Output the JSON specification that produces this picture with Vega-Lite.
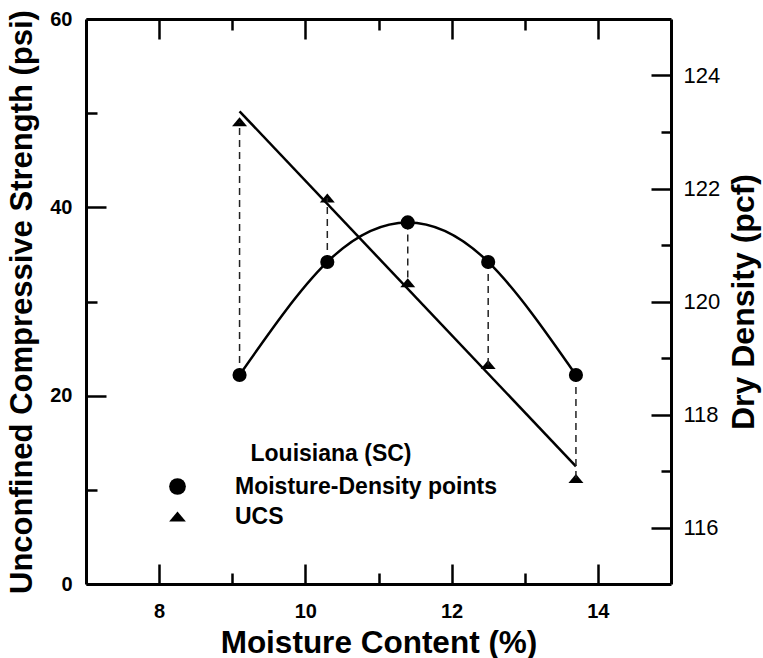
{
  "$schema": "https://vega.github.io/schema/vega-lite/v6.json",
  "width": 585,
  "height": 565,
  "autosize": {"type": "none"},
  "padding": {"left": 86, "top": 19, "right": 92, "bottom": 74},
  "background": "white",
  "config": {
    "view": {"stroke": null},
    "font": "Liberation Sans",
    "axis": {
      "grid": false,
      "domainColor": "black",
      "domainWidth": 3,
      "tickColor": "black",
      "tickWidth": 2.5,
      "labelColor": "black",
      "titleColor": "black",
      "labelFlush": false,
      "labelOverlap": false
    }
  },
  "datasets": {
    "points": [
      {"moisture": 9.1, "ucs": 49.1, "density": 118.7, "ucs_on_density_scale": 123.18},
      {"moisture": 10.3, "ucs": 41.0, "density": 120.7, "ucs_on_density_scale": 121.83},
      {"moisture": 11.4, "ucs": 32.0, "density": 121.4, "ucs_on_density_scale": 120.33},
      {"moisture": 12.5, "ucs": 23.3, "density": 120.7, "ucs_on_density_scale": 118.88},
      {"moisture": 13.7, "ucs": 11.2, "density": 118.7, "ucs_on_density_scale": 116.87}
    ],
    "fit": [
      {"moisture": 9.1, "ucs": 50.2},
      {"moisture": 13.7, "ucs": 12.5}
    ]
  },
  "layer": [
    {
      "encoding": {
        "x": {
          "field": "moisture",
          "type": "quantitative",
          "scale": {"domain": [7, 15], "nice": false, "zero": false},
          "axis": {
            "orient": "bottom",
            "values": [8, 9, 10, 11, 12, 13, 14],
            "tickSize": {"condition": {"test": "datum.value % 2 === 0", "value": -20}, "value": -11},
            "labelExpr": "datum.value % 2 === 0 ? datum.label : ''",
            "labelFontSize": 20,
            "labelFontWeight": "bold",
            "labelPadding": 37,
            "title": "Moisture Content (%)",
            "titleFontSize": 31.5,
            "titleFontWeight": "bold",
            "titlePadding": -3
          }
        },
        "y": {
          "field": "ucs",
          "type": "quantitative",
          "scale": {"domain": [0, 60], "nice": false},
          "axis": {
            "orient": "left",
            "values": [0, 10, 20, 30, 40, 50, 60],
            "tickSize": {"condition": {"test": "datum.value % 20 === 0", "value": -20}, "value": -11},
            "labelExpr": "datum.value % 20 === 0 ? datum.label : ''",
            "labelFontSize": 20,
            "labelFontWeight": "bold",
            "labelPadding": 34,
            "title": "Unconfined Compressive Strength (psi)",
            "titleFontSize": 31,
            "titleFontWeight": "bold",
            "titlePadding": 11
          }
        }
      },
      "layer": [
        {
          "data": {"name": "fit"},
          "mark": {"type": "line", "color": "black", "strokeWidth": 2.5}
        },
        {
          "data": {"name": "points"},
          "mark": {"type": "point", "filled": true, "color": "black", "opacity": 1, "size": 225},
          "encoding": {
            "shape": {
              "datum": "UCS",
              "type": "nominal",
              "scale": {
                "domain": ["Moisture-Density points", "UCS"],
                "range": ["circle", "M-1,0.6L1,0.6L0,-0.6Z"]
              },
              "legend": {
                "orient": "none",
                "legendX": 80,
                "legendY": 424,
                "title": "Louisiana (SC)",
                "titleFontSize": 23,
                "titleFontWeight": "bold",
                "titleColor": "black",
                "titleAnchor": "middle",
                "titlePadding": 9,
                "titleLimit": 400,
                "labelFontSize": 23,
                "labelFontWeight": "bold",
                "labelColor": "black",
                "labelLimit": 400,
                "labelOffset": 46,
                "rowPadding": 6,
                "symbolSize": 280,
                "symbolFillColor": "black",
                "symbolStrokeColor": "black",
                "symbolOpacity": 1
              }
            }
          }
        }
      ]
    },
    {
      "data": {"name": "points"},
      "encoding": {
        "x": {
          "field": "moisture",
          "type": "quantitative",
          "scale": {"domain": [7, 15], "nice": false, "zero": false},
          "axis": {
            "orient": "top",
            "values": [8, 9, 10, 11, 12, 13, 14],
            "tickSize": {"condition": {"test": "datum.value % 2 === 0", "value": -20}, "value": -11},
            "labels": false,
            "title": null
          }
        },
        "y": {
          "field": "density",
          "type": "quantitative",
          "scale": {"domain": [115, 125], "nice": false, "zero": false},
          "axis": {
            "orient": "right",
            "values": [116, 117, 118, 119, 120, 121, 122, 123, 124],
            "tickSize": {"condition": {"test": "datum.value % 2 === 0", "value": -20}, "value": -10},
            "labelExpr": "datum.value % 2 === 0 ? datum.label : ''",
            "labelFontSize": 22,
            "labelFontWeight": "normal",
            "labelPadding": 32,
            "title": "Dry Density (pcf)",
            "titleAngle": 270,
            "titleBaseline": "top",
            "titleFontSize": 32,
            "titleFontWeight": "bold",
            "titlePadding": 9
          }
        }
      },
      "layer": [
        {
          "mark": {"type": "rule", "color": "#222222", "strokeWidth": 1.5, "strokeDash": [7, 5]},
          "encoding": {"y2": {"field": "ucs_on_density_scale"}}
        },
        {
          "mark": {"type": "line", "color": "black", "strokeWidth": 2.5, "interpolate": "natural"}
        },
        {
          "mark": {"type": "point", "filled": true, "color": "black", "opacity": 1, "size": 200},
          "encoding": {
            "shape": {"datum": "Moisture-Density points", "type": "nominal"}
          }
        }
      ]
    }
  ],
  "resolve": {
    "scale": {"y": "independent"},
    "axis": {"x": "independent", "y": "independent"}
  }
}
